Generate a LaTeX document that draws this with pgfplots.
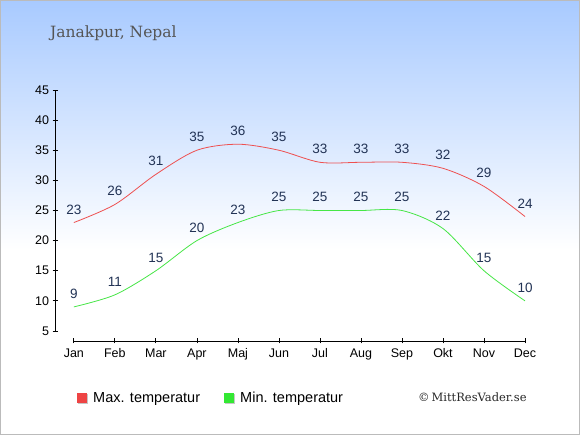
\documentclass[border=0pt]{standalone}
\usepackage{pgfplots}
\pgfplotsset{compat=1.18}
\usepackage{fontspec}
\setmainfont{Liberation Sans}
\newfontfamily\seriffont{DejaVu Serif}
\definecolor{topblue}{RGB}{168,202,255}
\definecolor{maxc}{RGB}{238,80,80}
\definecolor{minc}{RGB}{70,230,70}
\definecolor{maxsq}{RGB}{238,68,68}
\definecolor{minsq}{RGB}{51,232,51}
\definecolor{lbl}{RGB}{34,51,85}
\definecolor{brd}{RGB}{187,187,187}
\begin{document}
\begin{tikzpicture}
\useasboundingbox (0pt,0pt) rectangle (580pt,435pt);
\fill[white] (0pt,0pt) rectangle (580pt,435pt);
\shade[top color=topblue, bottom color=white] (0pt,185pt) rectangle (580pt,435pt);
\draw[brd, line width=1.2pt] (0.6pt,0.6pt) rectangle (579.4pt,434.4pt);
\node[anchor=west, inner sep=0, text={rgb,255:red,85;green,85;blue,85}] at (50pt,402pt) {\seriffont\fontsize{15.5}{18}\selectfont Janakpur, Nepal};
\begin{axis}[
  at={(55pt,94pt)}, anchor=south west, scale only axis,
  width=470pt, height=251pt,
  xmin=-0.46, xmax=11, ymin=3.34, ymax=45,
  axis x line*=bottom, axis y line*=left,
  axis line style={draw=none},
  clip=false,
  xtick={0,...,11},
  xticklabels={Jan,Feb,Mar,Apr,Maj,Jun,Jul,Aug,Sep,Okt,Nov,Dec},
  ytick={5,10,...,45},
  tick align=center, major tick length=5pt,
  tick style={black, line width=0.8pt},
  ticklabel style={font=\fontsize{12.5}{14}\selectfont, text=black},
  xticklabel style={yshift=-1.5pt},
  /pgf/number format/assume math mode=true,
  nodes near coords,
  every node near coord/.append style={font=\fontsize{13.5}{15}\selectfont, text=lbl, anchor=base, inner sep=0pt, yshift=8.5pt},
]
\addplot[maxc, smooth, tension=0.5, line width=0.8pt, mark=none] coordinates {
(0,23) (1,26) (2,31) (3,35) (4,36) (5,35) (6,33) (7,33) (8,33) (9,32) (10,29) (11,24)};
\addplot[minc, smooth, tension=0.5, line width=0.8pt, mark=none] coordinates {
(0,9) (1,11) (2,15) (3,20) (4,23) (5,25) (6,25) (7,25) (8,25) (9,22) (10,15) (11,10)};
\draw[black, line width=0.8pt] (axis cs:-0.46,5) -- (axis cs:-0.46,45);
\draw[black, line width=0.8pt] (axis cs:0,3.34) -- (axis cs:11,3.34);
\end{axis}
% legend
\fill[gray!45] (78pt,31pt) rectangle (88pt,41pt);
\fill[maxsq] (77pt,32pt) rectangle (87pt,42pt);
\node[anchor=base west, inner sep=0] at (93pt,32pt) {\fontsize{14.5}{16}\selectfont Max. temperatur};
\fill[gray!45] (225pt,31pt) rectangle (235pt,41pt);
\fill[minsq] (224pt,32pt) rectangle (234pt,42pt);
\node[anchor=base west, inner sep=0] at (240pt,32pt) {\fontsize{14.5}{16}\selectfont Min. temperatur};
\node[anchor=west, inner sep=0, text={rgb,255:red,40;green,40;blue,40}] at (418pt,38pt) {\seriffont\fontsize{11.5}{14}\selectfont \textcopyright\,MittResVader.se};
\end{tikzpicture}
\end{document}
